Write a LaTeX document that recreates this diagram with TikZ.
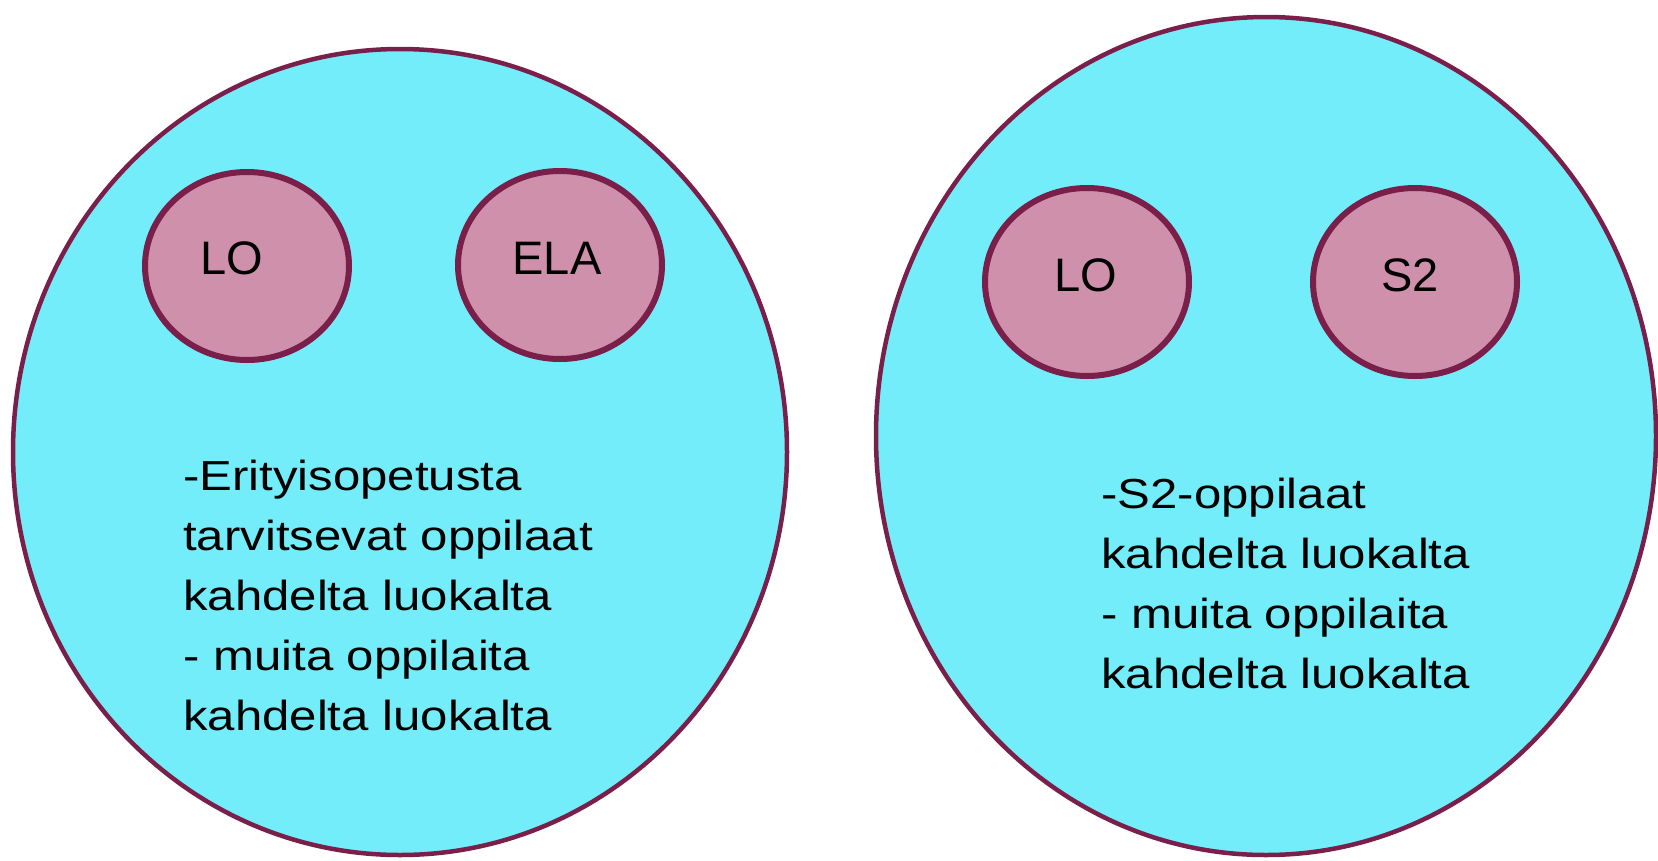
\documentclass[tikz,border=0pt]{standalone}
\usepackage{fontspec}
\setmainfont{Liberation Sans}
\newfontfamily\bodyfont[FakeStretch=1.17]{Liberation Sans}
\usetikzlibrary{shapes.geometric}
\definecolor{bigfill}{RGB}{116,237,250}
\definecolor{smallfill}{RGB}{207,144,172}
\definecolor{rim}{RGB}{122,31,74}
\tikzset{
  bigoval/.style={ellipse, draw=rim, fill=bigfill, line width=4.5pt, inner sep=0pt},
  smalloval/.style={ellipse, draw=rim, fill=smallfill, line width=6pt, inner sep=0pt, minimum width=204pt, minimum height=188pt},
  lbl/.style={font=\fontsize{47}{50}\selectfont, inner sep=0pt, text=black},
  body/.style={font=\bodyfont\fontsize{42}{60}\selectfont, align=left, inner sep=0pt, anchor=base west, text=black}
}
\begin{document}
\begin{tikzpicture}[x=1pt,y=-1pt]
\useasboundingbox (0,0) rectangle (1658,860);
\fill[white] (0,0) rectangle (1658,860);
% left group
\node[bigoval, minimum width=774pt, minimum height=806pt] (leftbig) at (400,452) {};
\node[smalloval] (lo1) at (247,266) {};
\node[smalloval] (ela) at (560,265) {};
\node[lbl] (lo1t) at (232,258) {LO};
\node[lbl] (elat) at (557,258) {ELA};
\node[body] (lefttext) at (183,730) {-Erityisopetusta\\tarvitsevat oppilaat\\kahdelta luokalta\\- muita oppilaita\\kahdelta luokalta};
% right group
\node[bigoval, minimum width=780pt, minimum height=838pt] (rightbig) at (1266,436) {};
\node[smalloval] (lo2) at (1087,282) {};
\node[smalloval] (s2) at (1415,282) {};
\node[lbl] (lo2t) at (1086,275) {LO};
\node[lbl] (s2t) at (1410,275) {S2};
\node[body] (righttext) at (1101,688) {-S2-oppilaat\\kahdelta luokalta\\- muita oppilaita\\kahdelta luokalta};
\end{tikzpicture}
\end{document}
